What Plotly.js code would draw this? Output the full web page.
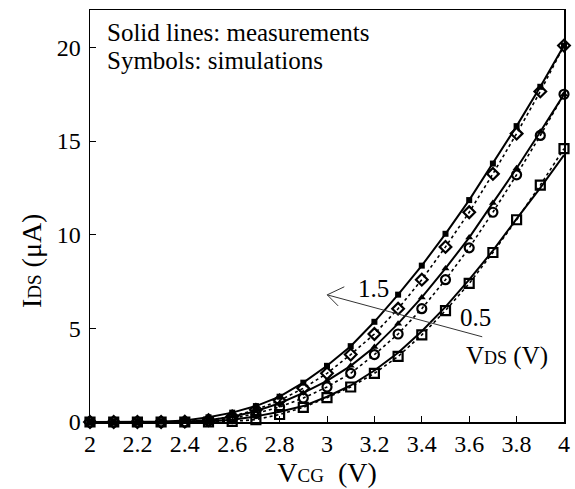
<!DOCTYPE html>
<html>
<head>
<meta charset="utf-8">
<script src="https://cdn.plot.ly/plotly-3.0.1.min.js"></script>
<style>html,body{margin:0;padding:0;background:#fff;}#chart{width:575px;height:489px;}</style>
</head>
<body>
<div id="chart"></div>
<script>
// Gate voltage V_CG (V)
const vcg = [2.0,2.1,2.2,2.3,2.4,2.5,2.6,2.7,2.8,2.9,3.0,3.1,3.2,3.3,3.4,3.5,3.6,3.7,3.8,3.9,4.0];
// Measurements (solid lines), I_DS in uA
const meas15 = [0,0,0,0.02,0.08,0.25,0.5,0.85,1.35,2.1,3.0,4.05,5.35,6.8,8.35,10.05,11.85,13.8,15.8,17.9,20.1];
const meas10 = [0,0,0,0,0.02,0.1,0.28,0.58,1.0,1.55,2.2,3.0,4.0,5.25,6.65,8.2,9.85,11.7,13.55,15.5,17.5];
const meas05 = [0,0,0,0,0,0.03,0.12,0.3,0.55,0.85,1.35,1.95,2.75,3.7,4.85,6.15,7.6,9.15,10.85,12.5,14.25];
// Simulations (symbols)
const sim15 = [0,0,0,0,0.02,0.1,0.3,0.65,1.15,1.8,2.6,3.6,4.7,6.05,7.6,9.35,11.2,13.25,15.4,17.65,20.1];
const sim10 = [0,0,0,0,0,0.05,0.18,0.45,0.8,1.28,1.87,2.6,3.6,4.7,6.05,7.6,9.3,11.2,13.2,15.3,17.5];
const sim05 = [0,0,0,0,0,0,0.03,0.13,0.4,0.78,1.3,1.87,2.6,3.5,4.65,5.95,7.4,9.05,10.8,12.65,14.6];
// Axis ticks
const xTicks = [2,2.2,2.4,2.6,2.8,3,3.2,3.4,3.6,3.8,4];
const xTickText = ['2','2.2','2.4','2.6','2.8','3','3.2','3.4','3.6','3.8','4'];
const yTicks = [0,5,10,15,20];
const yTickText = ['0','5','10','15','20'];

const FONT = 'Liberation Serif, Times New Roman, serif';

function measTrace(y, sym, size, name) {
  return {x: vcg, y: y, type: 'scatter', mode: sym ? 'lines+markers' : 'lines', name: name,
    line: {color: '#000', width: 2}, cliponaxis: false,
    marker: {symbol: sym || 'square', size: size, color: '#000'}};
}
function simTrace(y, sym, name) {
  return {x: vcg, y: y, type: 'scatter', mode: 'lines+markers', name: name,
    line: {color: '#000', width: 1.6, dash: 'dot'}, cliponaxis: false,
    marker: {symbol: sym, size: 9, color: '#000', line: {color: '#000', width: 2.2}}};
}

const data = [
  measTrace(meas15, 'square', 6, 'Meas. 1.5 V'),
  simTrace(sim15, 'diamond-open', 'Sim. 1.5 V'),
  measTrace(meas10, 'triangle-up', 7, 'Meas. 1.0 V'),
  simTrace(sim10, 'circle-open', 'Sim. 1.0 V'),
  measTrace(meas05, null, 0, 'Meas. 0.5 V'),
  simTrace(sim05, 'square-open', 'Sim. 0.5 V')
];

const layout = {
  width: 575, height: 489,
  margin: {l: 90, r: 11, t: 10, b: 67},
  paper_bgcolor: '#fff', plot_bgcolor: '#fff',
  showlegend: false,
  font: {family: FONT, color: '#000'},
  xaxis: {
    range: [2, 4], tickmode: 'array', tickvals: xTicks, ticktext: xTickText,
    ticks: 'inside', ticklen: 6, tickwidth: 1, tickcolor: '#000',
    showline: true, mirror: true, linecolor: '#000', linewidth: 1.5,
    showgrid: false, zeroline: false,
    tickfont: {family: FONT, size: 24, color: '#000'},
    title: {text: 'V<span style="font-size:19px">CG</span>  (V)', font: {family: FONT, size: 28, color: '#000'}, standoff: 6}
  },
  yaxis: {
    range: [0, 22], tickmode: 'array', tickvals: yTicks, ticktext: yTickText,
    ticks: 'inside', ticklen: 6, tickwidth: 1, tickcolor: '#000',
    showline: true, mirror: true, linecolor: '#000', linewidth: 1.5,
    showgrid: false, zeroline: false, ticklabelstandoff: 3,
    tickfont: {family: FONT, size: 24, color: '#000'}
  },
  annotations: [
    {xref: 'paper', yref: 'paper', x: -0.1245, y: 0.393, xanchor: 'center', yanchor: 'middle',
     textangle: -90, showarrow: false,
     text: 'I<span style="font-size:19px">DS</span> (μA)', font: {family: FONT, size: 28, color: '#000'}},
    {xref: 'paper', yref: 'paper', x: 0.031, y: 0.946, xanchor: 'left', yanchor: 'middle', showarrow: false,
     text: 'Solid lines: measurements', font: {family: FONT, size: 25, color: '#000'}},
    {xref: 'paper', yref: 'paper', x: 0.031, y: 0.877, xanchor: 'left', yanchor: 'middle', showarrow: false,
     text: 'Symbols: simulations', font: {family: FONT, size: 25, color: '#000'}},
    {xref: 'x', yref: 'y', x: 3.195, y: 7.15, showarrow: false, text: '1.5',
     font: {family: FONT, size: 25, color: '#000'}},
    {xref: 'x', yref: 'y', x: 3.626, y: 5.6, showarrow: false, text: '0.5',
     font: {family: FONT, size: 25, color: '#000'}},
    {xref: 'x', yref: 'y', x: 3.76, y: 3.5, showarrow: false,
     text: 'V<span style="font-size:18px">DS</span> (V)', font: {family: FONT, size: 25, color: '#000'}}
  ],
  shapes: [
    {type: 'line', xref: 'x', yref: 'y', x0: 3.655, y0: 4.55, x1: 3.001, y1: 6.79, line: {color: '#333', width: 1}},
    {type: 'line', xref: 'x', yref: 'y', x0: 3.001, y0: 6.79, x1: 3.073, y1: 7.22, line: {color: '#333', width: 1}},
    {type: 'line', xref: 'x', yref: 'y', x0: 3.001, y0: 6.79, x1: 3.047, y1: 6.20, line: {color: '#333', width: 1}}
  ]
};

Plotly.newPlot('chart', data, layout, {staticPlot: true, displayModeBar: false});
</script>
</body>
</html>
